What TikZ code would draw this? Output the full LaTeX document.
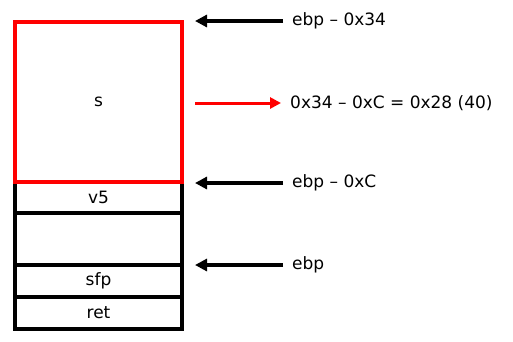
\documentclass[tikz,border=0pt]{standalone}
\usepackage{fontspec}
\setmainfont{DejaVu Sans}
\usetikzlibrary{arrows.meta,positioning}

\begin{document}
\begin{tikzpicture}[
  x=1pt, y=-1pt,
  font=\fontsize{17}{20}\selectfont,
  node distance=0pt,
  cell/.style={draw, line width=3.5pt, inner sep=0pt, outer sep=0pt, minimum width=167pt},
  redcell/.style={cell, draw=red, line width=3.2pt},
  lbl/.style={anchor=west, inner sep=0pt, inner xsep=9pt},
  arrow/.style={-{Triangle[length=12pt,width=12pt]}, line width=4pt},
  redarrow/.style={-{Triangle[length=11pt,width=11pt]}, line width=3pt, red}
]
\useasboundingbox (0,0) rectangle (513,341);

% stack frame, top of v5 at ebp-0xC
\coordinate (split) at (98.5,182);
\node[cell, minimum height=31pt, below=of split] (v5) {v5};
\node[cell, minimum height=52pt, below=of v5] (gap) {};
\node[cell, minimum height=32pt, below=of gap] (sfp) {sfp};
\node[cell, minimum height=32pt, below=of sfp] (ret) {ret};
\node[redcell, minimum height=160pt, above=of split] (s) {s};

% labels on the right
\node[lbl] (top) at (283,21) {ebp – 0x34};
\node[lbl] (size) at (281,103) {0x34 – 0xC = 0x28 (40)};
\node[lbl] (mid) at (283,183) {ebp – 0xC};
\node[lbl] (base) at (283,265) {ebp};

\coordinate (topT) at (195,21);
\coordinate (sizeS) at (195,103);
\coordinate (midT) at (195,183);
\coordinate (baseT) at (195,265);

\draw[arrow] (top.west) -- (topT);
\draw[redarrow] (sizeS) -- (size.west);
\draw[arrow] (mid.west) -- (midT);
\draw[arrow] (base.west) -- (baseT);
\end{tikzpicture}
\end{document}
